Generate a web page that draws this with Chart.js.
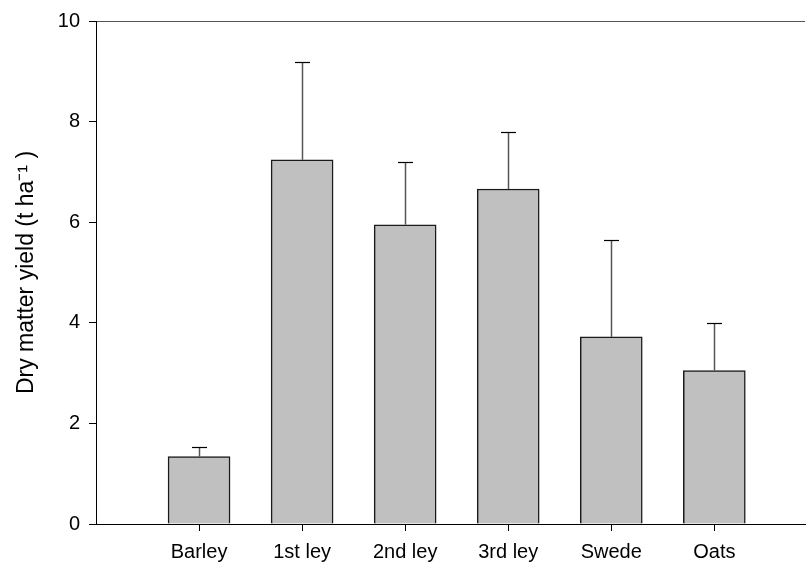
<!DOCTYPE html>
<html>
<head>
<meta charset="utf-8">
<script src="https://cdn.jsdelivr.net/npm/chart.js@4"></script>
<style>
  html, body { margin: 0; padding: 0; background: #fff; }
  #myChart { display: block; }
</style>
</head>
<body>
<canvas id="myChart" width="806" height="564"></canvas>
<script>
var categories = ['Barley', '1st ley', '2nd ley', '3rd ley', 'Swede', 'Oats'];
var yieldValues = [1.34, 7.24, 5.95, 6.66, 3.72, 3.05];
var errorValues = [0.19, 1.95, 1.25, 1.13, 1.93, 0.95];
var yTicks = [0, 2, 4, 6, 8, 10];

var ctx = document.getElementById('myChart').getContext('2d');

var points = [];
for (var i = 0; i < categories.length; i++) {
  points.push({ x: i + 1, y: yieldValues[i] });
}

// error bars (upper only), drawn through the chart scales
var errorBars = {
  id: 'errorBars',
  afterDatasetsDraw: function (chart) {
    var xs = chart.scales.x, ys = chart.scales.y;
    var c = chart.ctx;
    c.save();
    for (var i = 0; i < yieldValues.length; i++) {
      var x = Math.round(xs.getPixelForValue(i + 1)) + 0.5;
      var y0 = ys.getPixelForValue(yieldValues[i]);
      var y1 = Math.round(ys.getPixelForValue(yieldValues[i] + errorValues[i])) + 0.5;
      c.strokeStyle = '#555';
      c.lineWidth = 1.5;
      c.beginPath();
      c.moveTo(x, y0);
      c.lineTo(x, y1);
      c.stroke();
      c.strokeStyle = '#000';
      c.lineWidth = 1.2;
      c.beginPath();
      c.moveTo(x - 7.5, y1);
      c.lineTo(x + 7.5, y1);
      c.stroke();
    }
    c.restore();
  }
};

var chart = new Chart(ctx, {
  type: 'bar',
  data: {
    datasets: [{
      data: points,
      backgroundColor: '#c0c0c0',
      borderColor: '#1a1a1a',
      borderWidth: 1.5,
      borderSkipped: 'bottom',
      barThickness: 62
    }]
  },
  options: {
    responsive: false,
    animation: false,
    layout: { padding: { top: 20, right: 1, left: 0, bottom: 0 } },
    plugins: {
      legend: { display: false },
      tooltip: { enabled: false }
    },
    scales: {
      x: {
        type: 'linear',
        min: 0,
        max: 6.88,
        offset: false,
        afterBuildTicks: function (scale) {
          scale.ticks = categories.map(function (c, i) { return { value: i + 1 }; });
        },
        afterFit: function (scale) { scale.height = 40; },
        grid: { offset: false, drawOnChartArea: false, drawTicks: true, tickLength: 7, tickColor: '#000', tickWidth: 1 },
        border: { display: true, color: '#000', width: 1 },
        ticks: {
          padding: 9,
          color: '#000',
          font: { family: 'Liberation Sans, Arial, sans-serif', size: 20 },
          callback: function (v) { return categories[v - 1]; }
        }
      },
      y: {
        min: 0,
        max: 10,
        afterBuildTicks: function (scale) {
          scale.ticks = yTicks.map(function (v) { return { value: v }; });
        },
        afterFit: function (scale) { scale.width = 96; },
        grid: {
          drawOnChartArea: true,
          color: function (c) { return c.tick && c.tick.value === 10 ? '#555' : 'rgba(0,0,0,0)'; },
          tickColor: '#000',
          tickLength: 7,
          lineWidth: 1
        },
        border: { display: true, color: '#000', width: 1 },
        ticks: {
          padding: 9,
          color: '#000',
          font: { family: 'Liberation Sans, Arial, sans-serif', size: 20 }
        },
        title: {
          display: true,
          text: 'Dry matter yield (t ha\u207B\u00B9 )',
          color: '#000',
          padding: { top: 13, bottom: 0 },
          font: { family: 'Liberation Sans, Arial, sans-serif', size: 23 }
        }
      }
    }
  },
  plugins: [errorBars]
});
</script>
</body>
</html>
